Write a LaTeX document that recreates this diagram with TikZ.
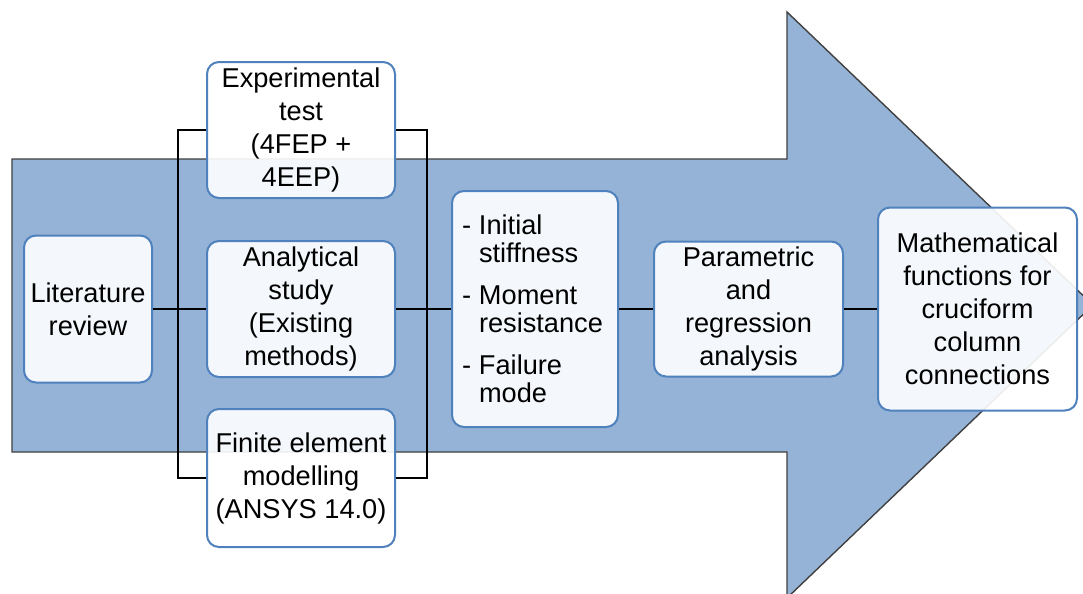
\documentclass[tikz,border=0pt]{standalone}
\usepackage{fontspec}
\setmainfont{Liberation Sans}
\usetikzlibrary{positioning,calc}
\definecolor{arrowblue}{HTML}{95B3D7}
\definecolor{boxblue}{HTML}{4F81BD}

\begin{document}
\begin{tikzpicture}[x=0.5pt, y=-0.5pt]
	\useasboundingbox (0,0) rectangle (1083,594);
	% big arrow behind everything
	\begin{scope}
		\clip (0,0) rectangle (1083,594);
		\draw [fill=arrowblue, draw=black!75, line width=0.7pt] (12,159) -- (787,159) -- (787,12) -- (1093,305) -- (787,598) -- (787,452) -- (12,452) -- cycle;
	\end{scope}
	\begin{scope}
		\tikzstyle{every node}=[align=center, inner sep=0pt, font=\fontsize{13.6}{16.5}\selectfont]
		\tikzstyle{blk}=[draw=boxblue, line width=1pt, rounded corners=6pt, fill=white, fill opacity=0.9, text opacity=1]
		\node [blk, minimum width=64pt, minimum height=73.5pt] (lit) at (88, 309) {Literature\\review};

		\node [blk, minimum width=94pt, minimum height=68pt] (exp) at (301, 130) {Experimental\\test\\(4FEP +\\4EEP)};
		\node [blk, minimum width=94pt, minimum height=68pt] (ana) at (301, 309) {Analytical\\study\\(Existing\\methods)};
		\node [blk, minimum width=94pt, minimum height=69pt] (fem) at (301, 478) {Finite element\\modelling\\(ANSYS 14.0)};

		\node [blk, text width=73pt, inner xsep=5pt, minimum height=118pt, align=left, font=\fontsize{13.6}{14}\selectfont] (res) at (535, 309) {\makebox[8.5pt][l]{-}Initial\\\hspace*{8.5pt}stiffness\\[7pt]\makebox[8.5pt][l]{-}Moment\\\hspace*{8.5pt}resistance\\[7pt]\makebox[8.5pt][l]{-}Failure\\\hspace*{8.5pt}mode};

		\node [blk, minimum width=94.5pt, minimum height=67.5pt] (par) at (748.5, 309) {Parametric\\and\\regression\\analysis};
		\node [blk, minimum width=99.5pt, minimum height=101.5pt] (mat) at (977.5, 309) {Mathematical\\functions for\\cruciform\\column\\connections};

		\coordinate (lt) at (178, 130);
		\coordinate (lb) at (178, 478);
		\coordinate (rt) at (427, 130);
		\coordinate (rb) at (427, 478);

		\draw [line width=0.75pt] (exp) -- (lt) -- (lb) -- (fem);
		\draw [line width=0.75pt] (exp) -- (rt) -- (rb) -- (fem);
		\draw [line width=0.75pt] (lit) -- (ana);
		\draw [line width=0.75pt] (ana) -- (res);
		\draw [line width=0.75pt] (res) -- (par);
		\draw [line width=0.75pt] (par) -- (mat);
	\end{scope}
\end{tikzpicture}
\end{document}
